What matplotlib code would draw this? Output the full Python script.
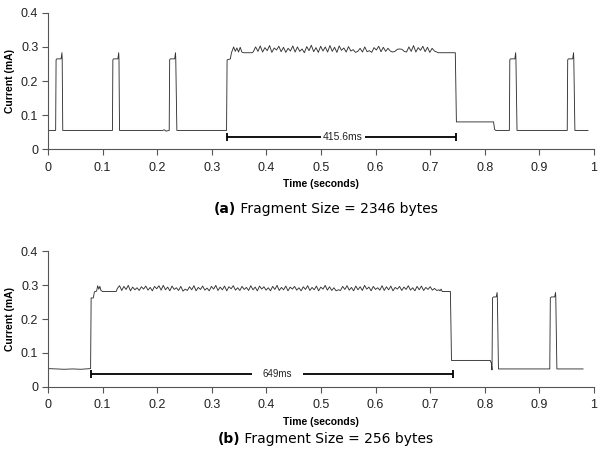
import numpy as np
import matplotlib
matplotlib.use("Agg")
import matplotlib.pyplot as plt


# ---------------------------
# Trace (a): fragment size 2346 bytes
# ---------------------------
t_a_start = [0.000, 0.014, 0.0148, 0.016, 0.024, 0.0255, 0.026, 0.027,
             0.118, 0.1188, 0.120, 0.128, 0.1295, 0.130, 0.131,
             0.210, 0.213, 0.216, 0.222, 0.2228, 0.224, 0.232, 0.2335, 0.234, 0.236,
             0.327, 0.328, 0.334, 0.336, 0.340, 0.343, 0.346, 0.349, 0.352,
             0.355, 0.358, 0.374]
i_a_start = [0.055, 0.055, 0.262, 0.265, 0.265, 0.283, 0.265, 0.055,
             0.055, 0.262, 0.265, 0.265, 0.283, 0.265, 0.055,
             0.055, 0.057, 0.053, 0.055, 0.262, 0.265, 0.265, 0.283, 0.265, 0.055,
             0.055, 0.262, 0.265, 0.283, 0.300, 0.287, 0.297, 0.285, 0.299,
             0.285, 0.283, 0.283]

noise_a_span = (0.376, 0.712)
noise_a = [0.286, 0.300, 0.287, 0.303, 0.285, 0.298, 0.289, 0.304, 0.284, 0.297,
           0.291, 0.302, 0.286, 0.299, 0.284, 0.296, 0.288, 0.303, 0.285, 0.300,
           0.287, 0.294, 0.283, 0.301, 0.289, 0.305, 0.286, 0.298, 0.284, 0.302,
           0.288, 0.300, 0.285, 0.304, 0.287, 0.299, 0.284, 0.303, 0.290, 0.297,
           0.285, 0.301, 0.288, 0.292, 0.284, 0.287, 0.296, 0.285, 0.300, 0.286,
           0.289, 0.284, 0.298, 0.291, 0.302, 0.286, 0.299, 0.287, 0.296, 0.288,
           0.285, 0.287, 0.293, 0.294, 0.293, 0.287, 0.285, 0.300, 0.287, 0.304,
           0.285, 0.298, 0.290, 0.302, 0.286, 0.299, 0.284, 0.296, 0.288, 0.285]

t_a_end = [0.715, 0.746, 0.748, 0.816, 0.818, 0.820,
           0.845, 0.8458, 0.847, 0.855, 0.8565, 0.857, 0.859,
           0.951, 0.9518, 0.953, 0.961, 0.9625, 0.963, 0.965, 0.989]
i_a_end = [0.283, 0.283, 0.080, 0.080, 0.058, 0.055,
           0.055, 0.262, 0.265, 0.265, 0.283, 0.265, 0.055,
           0.055, 0.262, 0.265, 0.265, 0.283, 0.265, 0.055, 0.055]

bracket_a = (0.327, 0.747, 0.035)
gap_a = (0.500, 0.580)
label_a = "415.6ms"

# ---------------------------
# Trace (b): fragment size 256 bytes
# ---------------------------
t_b_start = [0.000, 0.015, 0.030, 0.045, 0.060, 0.077, 0.078, 0.079, 0.083,
             0.085, 0.089, 0.091, 0.093, 0.095, 0.097, 0.100, 0.125]
i_b_start = [0.054, 0.053, 0.052, 0.053, 0.052, 0.054, 0.054, 0.262, 0.262,
             0.280, 0.282, 0.298, 0.288, 0.296, 0.284, 0.281, 0.281]

noise_b_span = (0.127, 0.716)
noise_b = [0.290, 0.298, 0.284, 0.296, 0.287, 0.299, 0.283, 0.294, 0.286, 0.292,
           0.284, 0.295, 0.288, 0.297, 0.285, 0.293, 0.283, 0.296, 0.289, 0.298,
           0.285, 0.299, 0.286, 0.294, 0.283, 0.297, 0.287, 0.292, 0.284, 0.296,
           0.282, 0.288, 0.284, 0.295, 0.286, 0.298, 0.283, 0.293, 0.287, 0.297,
           0.285, 0.291, 0.283, 0.296, 0.288, 0.299, 0.284, 0.294, 0.286, 0.297,
           0.283, 0.295, 0.289, 0.298, 0.285, 0.292, 0.284, 0.296, 0.287, 0.293,
           0.284, 0.298, 0.286, 0.294, 0.283, 0.297, 0.288, 0.295, 0.285, 0.292,
           0.283, 0.296, 0.287, 0.299, 0.284, 0.293, 0.286, 0.297, 0.283, 0.294,
           0.288, 0.296, 0.285, 0.292, 0.283, 0.295, 0.287, 0.298, 0.284, 0.293,
           0.286, 0.297, 0.283, 0.294, 0.288, 0.299, 0.285, 0.295, 0.284, 0.292,
           0.283, 0.286, 0.284, 0.296, 0.287, 0.298, 0.285, 0.293, 0.283, 0.297,
           0.286, 0.295, 0.284, 0.299, 0.288, 0.294, 0.283, 0.296, 0.287, 0.292,
           0.285, 0.298, 0.284, 0.295, 0.286, 0.297, 0.283, 0.293, 0.288, 0.296,
           0.284, 0.294, 0.287, 0.298, 0.285, 0.292, 0.283, 0.296, 0.286, 0.297,
           0.284, 0.293, 0.287, 0.295, 0.285, 0.290, 0.284, 0.286]

t_b_end = [0.718, 0.720, 0.722, 0.737, 0.739, 0.810, 0.812, 0.8132,
           0.8142, 0.816, 0.821, 0.8225, 0.823, 0.825,
           0.919, 0.920, 0.922, 0.928, 0.9295, 0.930, 0.932, 0.980]
i_b_end = [0.283, 0.288, 0.281, 0.281, 0.078, 0.078, 0.070, 0.050,
           0.262, 0.265, 0.265, 0.278, 0.265, 0.053,
           0.053, 0.262, 0.265, 0.265, 0.278, 0.265, 0.053, 0.053]

bracket_b = (0.078, 0.742, 0.038)
gap_b = (0.373, 0.467)
label_b = "649ms"

captions = [("(a)", " Fragment Size = 2346 bytes"),
            ("(b)", " Fragment Size = 256 bytes")]

x_ticks = [0, 0.1, 0.2, 0.3, 0.4, 0.5, 0.6, 0.7, 0.8, 0.9, 1]
y_ticks = [0, 0.1, 0.2, 0.3, 0.4]

LINE = "#333333"
AXC = "#555555"


def build_trace(t0, i0, span, noise, t1, i1):
    """Join the hand-read pieces of one trace"""
    t_noise = np.linspace(span[0], span[1], len(noise))
    t = np.concatenate([t0, t_noise, t1])
    i = np.concatenate([i0, noise, i1])
    return t, i


def style_axes(ax):
    ax.set_xlim(0, 1)
    ax.set_ylim(0, 0.4)
    ax.set_xticks(x_ticks)
    ax.set_xticklabels([f"{v:g}" for v in x_ticks])
    ax.set_yticks(y_ticks)
    ax.set_yticklabels([f"{v:g}" for v in y_ticks])
    for s in ["top", "right"]:
        ax.spines[s].set_visible(False)
    for s in ["left", "bottom"]:
        ax.spines[s].set_color(AXC)
        ax.spines[s].set_linewidth(0.8)
    ax.tick_params(axis="both", colors=AXC, length=4, width=0.8,
                   labelsize=9, labelcolor="#222222")
    ax.tick_params(axis="x", pad=5)
    ax.tick_params(axis="y", pad=3)
    for lab in ax.get_xticklabels() + ax.get_yticklabels():
        lab.set_family("Liberation Sans")
    ax.set_ylabel("Current (mA)", fontsize=7.5, fontweight="bold",
                  family="Liberation Sans", labelpad=4)
    ax.set_xlabel("Time (seconds)", fontsize=7.5, fontweight="bold",
                  family="Liberation Sans", labelpad=4)


def draw_bracket(ax, br, gap, label, fs):
    x0, x1, y = br
    ax.hlines(y, x0, gap[0], color="black", lw=1.3)
    ax.hlines(y, gap[1], x1, color="black", lw=1.3)
    ax.vlines([x0, x1], y - 0.011, y + 0.011, color="black", lw=1.3)
    ax.text((gap[0] + gap[1]) / 2, y, label, ha="center", va="center",
            fontsize=fs, family="Liberation Sans", color="#222222")


fig = plt.figure(figsize=(6.0, 4.59), dpi=100)
ax_a = fig.add_axes([0.080, 0.675, 0.910, 0.297])
ax_b = fig.add_axes([0.080, 0.157, 0.910, 0.296])

t_a, i_a = build_trace(t_a_start, i_a_start, noise_a_span, noise_a, t_a_end, i_a_end)
t_b, i_b = build_trace(t_b_start, i_b_start, noise_b_span, noise_b, t_b_end, i_b_end)

ax_a.plot(t_a, i_a, color=LINE, lw=0.65)
ax_b.plot(t_b, i_b, color=LINE, lw=0.65)

for ax in (ax_a, ax_b):
    style_axes(ax)

draw_bracket(ax_a, bracket_a, gap_a, label_a, 7.5)
draw_bracket(ax_b, bracket_b, gap_b, label_b, 7)

# captions: bold tag + regular text, centred as one line
for ax, (tag, rest), ycap in zip((ax_a, ax_b), captions, (0.529, 0.028)):
    full = fig.text(0.54, ycap, tag + rest, fontsize=10, ha="center",
                    va="bottom", family="DejaVu Sans", alpha=0)
    fig.canvas.draw()
    bb = full.get_window_extent().transformed(fig.transFigure.inverted())
    t1 = fig.text(bb.x0, ycap, tag, fontsize=10, fontweight="bold",
                  ha="left", va="bottom", family="DejaVu Sans")
    fig.canvas.draw()
    bb1 = t1.get_window_extent().transformed(fig.transFigure.inverted())
    fig.text(bb1.x1, ycap, rest, fontsize=10, ha="left", va="bottom",
             family="DejaVu Sans")
    full.remove()

fig.savefig("out.png", dpi=100)
